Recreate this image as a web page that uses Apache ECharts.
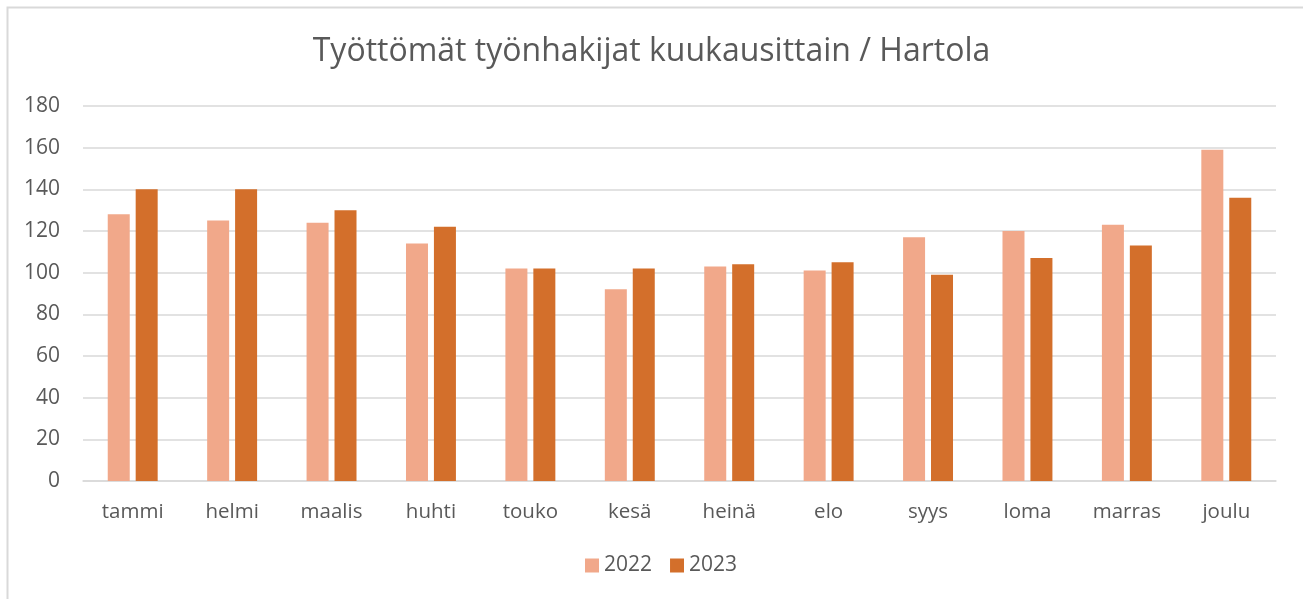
<!DOCTYPE html>
<html>
<head>
<meta charset="utf-8">
<script src="https://cdn.jsdelivr.net/npm/echarts@6/dist/echarts.min.js"></script>
<style>
html,body{margin:0;padding:0;background:#fff;}
#chart{width:1303px;height:599px;}
</style>
</head>
<body>
<div id="chart"></div>
<script>
const categories = ['tammi','helmi','maalis','huhti','touko','kesä','heinä','elo','syys','loma','marras','joulu'];
const values2022 = [128,125,124,114,102,92,103,101,117,120,123,159];
const values2023 = [140,140,130,122,102,102,104,105,99,107,113,136];
const seriesNames = ['2022','2023'];
const titleText = 'Työttömät työnhakijat kuukausittain / Hartola';

const textColor = '#595959';
const fontFam = '"Open Sans", "Liberation Sans", Arial, sans-serif';
const chart = echarts.init(document.getElementById('chart'));
chart.setOption({
  animation: false,
  backgroundColor: '#fff',
  graphic: [{
    type: 'rect', silent: true,
    shape: {x: 7.5, y: 7.5, width: 1400, height: 700},
    style: {fill: 'none', stroke: '#d9d9d9', lineWidth: 2}
  }],
  title: {
    text: titleText, left: 'center', top: 31,
    textStyle: {fontFamily: fontFam, fontSize: 32, fontWeight: 'normal', color: textColor}
  },
  legend: {
    data: seriesNames, bottom: 18, left: 580,
    itemWidth: 14, itemHeight: 14, itemGap: 18,
    icon: 'rect',
    textStyle: {fontFamily: fontFam, fontSize: 21, color: textColor}
  },
  grid: {left: 83, right: 27, top: 106, bottom: 118, containLabel: false},
  xAxis: {
    type: 'category', data: categories,
    axisLine: {lineStyle: {color: '#d9d9d9', width: 1.5}},
    axisTick: {show: false},
    axisLabel: {fontFamily: fontFam, fontSize: 20.5, color: textColor, margin: 21}
  },
  yAxis: {
    type: 'value', min: 0, max: 180, interval: 20,
    axisLine: {show: false}, axisTick: {show: false},
    axisLabel: {fontFamily: fontFam, fontSize: 21, color: textColor, margin: 23},
    splitLine: {lineStyle: {color: '#d9d9d9', width: 1.5}}
  },
  series: [
    {name: seriesNames[0], type: 'bar', data: values2022, barWidth: 22, barGap: '27%',
     itemStyle: {color: '#F1A88A'}},
    {name: seriesNames[1], type: 'bar', data: values2023, barWidth: 22,
     itemStyle: {color: '#D36F2B'}}
  ]
});
</script>
</body>
</html>
